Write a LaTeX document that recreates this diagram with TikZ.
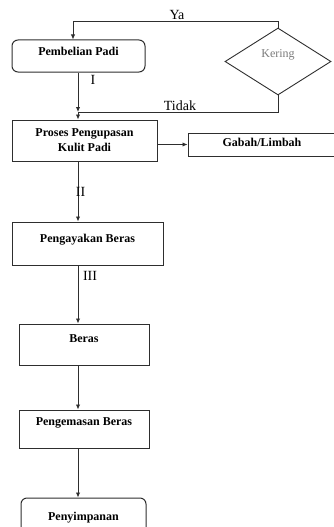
\documentclass[tikz,border=0pt]{standalone}
\usepackage{fontspec}
\setmainfont{Liberation Serif}
\usepackage{tikz}
\usetikzlibrary{positioning,shapes,arrows,arrows.meta,calc}
\definecolor{linegray}{HTML}{2E2E2E}
\definecolor{textgray}{HTML}{7A7A7A}

\begin{document}
\begin{tikzpicture}[x=1pt,y=-1pt,
    box/.style={draw=linegray, line width=1pt, rectangle, align=center,
      font=\fontsize{12}{15}\selectfont\bfseries, inner sep=0pt},
    onebox/.style={box, text height=9pt},
    roundbox/.style={onebox, rounded corners=6pt},
    lbl/.style={font=\fontsize{14}{16}\selectfont, inner sep=0pt},
    flow/.style={draw=linegray, line width=0.9pt, -{Latex[length=5pt,width=4.5pt]}},
    plain/.style={draw=linegray, line width=0.9pt}]
  \clip (0,0) rectangle (334,527);
  % boxes
  \node[roundbox, minimum width=133pt, minimum height=32pt, text depth=9pt] (pembelian) at (78.5,56) {Pembelian Padi};
  \node[diamond, draw=linegray, line width=0.9pt, aspect=1.6, minimum width=106pt, minimum height=67pt,
    inner sep=0pt, text height=8pt, text depth=17pt, font=\fontsize{12}{14}\selectfont, text=textgray] (kering) at (278,61.5) {Kering};
  \node[box, minimum width=145pt, minimum height=41pt] (proses) at (84.5,140.5) {Proses Pengupasan\\Kulit Padi};
  \node[onebox, minimum width=148pt, minimum height=23pt, text depth=6pt] (gabah) at (262,144.5) {Gabah/Limbah};
  \node[onebox, minimum width=151pt, minimum height=43pt, text depth=12pt] (pengayakan) at (87.5,243.5) {Pengayakan Beras};
  \node[onebox, minimum width=130pt, minimum height=41pt, text depth=14pt] (beras) at (84,344.5) {Beras};
  \node[onebox, minimum width=130pt, minimum height=38pt, text depth=17pt] (pengemasan) at (84,429) {Pengemasan Beras};
  \node[roundbox, minimum width=125pt, minimum height=40pt, text depth=5pt] (penyimpanan) at (83.5,518) {Penyimpanan};
  % helper points
  \coordinate (spine) at (78,0);
  \coordinate (ya) at (73,21);
  \coordinate (tidak) at (78,112);
  % connectors
  \draw[flow] (kering.north) |- (ya) -- (ya |- pembelian.north);
  \draw[plain] (kering.south) |- (tidak);
  \draw[flow] (pembelian.south -| spine) -- (tidak);
  \draw[flow] (tidak) -- (proses.north -| spine);
  \draw[flow] (proses.east |- gabah.west) -- (gabah.west);
  \draw[flow] (proses.south -| spine) -- (pengayakan.north -| spine);
  \draw[flow] (pengayakan.south -| spine) -- (beras.north -| spine);
  \draw[flow] (beras.south -| spine) -- (pengemasan.north -| spine);
  \draw[flow] (pengemasan.south -| spine) -- (penyimpanan.north -| spine);
  % labels
  \node[lbl] (lblya) at (177,15) {Ya};
  \node[lbl] (lbltidak) at (180,106) {Tidak};
  \node[lbl] (lblI) at (93,80) {I};
  \node[lbl] (lblII) at (80.5,192) {II};
  \node[lbl] (lblIII) at (90,276) {III};
\end{tikzpicture}
\end{document}
